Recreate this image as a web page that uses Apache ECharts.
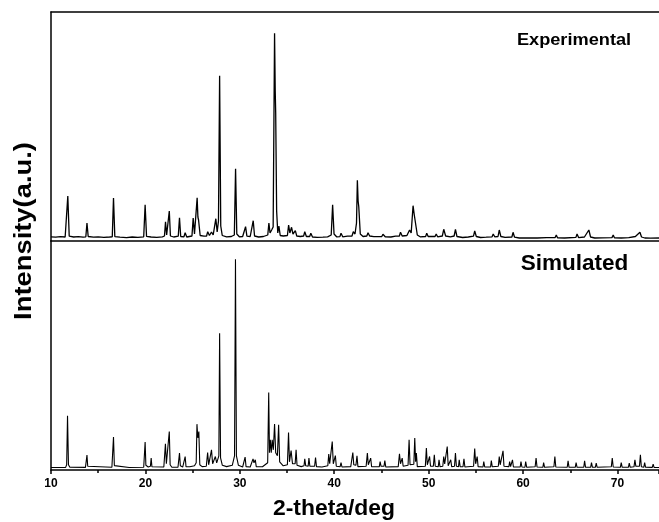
<!DOCTYPE html>
<html><head><meta charset="utf-8">
<script src="https://cdn.jsdelivr.net/npm/echarts@6/dist/echarts.min.js"></script>
<style>html,body{margin:0;padding:0;background:#fff}#c{width:659px;height:522px}</style>
</head><body><div id="c"></div>
<script>
// x range (2-theta, deg) and tick step
const xMin = 10, xMax = 74.4, xStep = 10;

// Experimental pattern: [2-theta, intensity]
const expPattern = [
[10.0,42],[10.5,38],[11.0,44],[11.5,40],[11.63,45],[11.78,450],[11.93,48],[12.4,40],[12.9,44],[13.4,38],[13.69,42],[13.81,180],[13.94,45],[14.5,38],[15.0,42],[15.6,36],[16.2,40],[16.49,42],[16.62,430],[16.76,44],[17.3,38],[18.0,34],[18.6,40],[19.2,36],[19.82,42],[19.97,363],[20.12,46],[20.6,40],[21.2,36],[21.8,42],[22.02,50],[22.13,193],[22.25,60],[22.4,60],[22.53,300],[22.65,50],[23.0,40],[23.48,48],[23.61,233],[23.74,45],[24.08,42],[24.21,83],[24.38,40],[24.93,50],[25.06,230],[25.2,70],[25.37,90],[25.48,433],[25.56,240],[25.63,210],[25.8,55],[26.2,48],[26.48,50],[26.6,93],[26.78,55],[27.0,90],[27.18,60],[27.34,80],[27.46,223],[27.6,90],[27.74,200],[27.86,1653],[27.98,150],[28.14,55],[28.6,42],[29.1,45],[29.42,60],[29.55,723],[29.68,70],[29.95,42],[30.3,45],[30.49,50],[30.61,143],[30.75,48],[31.1,45],[31.3,55],[31.42,203],[31.56,50],[32.0,40],[32.5,45],[32.96,60],[33.08,180],[33.2,80],[33.37,110],[33.53,140],[33.68,2077],[33.75,1500],[33.8,1280],[33.9,300],[34.02,80],[34.14,150],[34.28,55],[34.6,50],[35.04,55],[35.17,160],[35.3,80],[35.48,137],[35.63,70],[35.88,103],[36.03,50],[36.4,45],[36.76,50],[36.88,93],[37.05,45],[37.4,45],[37.52,77],[37.7,40],[38.2,36],[38.8,38],[39.3,42],[39.68,60],[39.83,363],[39.98,70],[40.25,42],[40.6,44],[40.72,77],[40.9,42],[41.4,48],[41.88,50],[42.02,93],[42.2,70],[42.36,180],[42.45,607],[42.53,400],[42.6,343],[42.76,70],[43.05,45],[43.45,50],[43.58,83],[43.75,50],[44.2,44],[45.04,45],[45.16,67],[45.4,42],[46.0,40],[46.5,48],[46.9,50],[47.02,87],[47.2,50],[47.7,55],[47.98,110],[48.15,80],[48.35,353],[48.48,260],[48.6,250],[48.8,60],[49.1,42],[49.68,45],[49.8,77],[49.95,45],[50.68,45],[50.8,70],[50.95,42],[51.45,50],[51.6,117],[51.8,50],[52.3,42],[52.7,50],[52.84,117],[53.0,45],[53.6,35],[54.2,40],[54.75,48],[54.88,100],[55.05,45],[55.5,35],[56.1,38],[56.72,42],[56.84,70],[57.0,42],[57.35,45],[57.48,110],[57.65,45],[58.1,36],[58.82,40],[58.94,87],[59.1,38],[59.6,30],[60.5,32],[61.5,30],[62.5,33],[63.4,34],[63.52,60],[63.65,32],[64.4,30],[65.6,36],[65.72,70],[65.88,34],[66.5,40],[66.97,110],[67.15,40],[67.6,30],[68.4,32],[69.42,34],[69.55,60],[69.68,32],[70.4,30],[71.2,34],[71.9,45],[72.38,87],[72.55,40],[72.9,30],[73.5,28],[74.4,30]
];

// Simulated pattern: [2-theta, intensity]
const simPattern = [
[10.0,3],[11.55,4],[11.66,30],[11.75,520],[11.85,30],[12.0,5],
[13.65,4],[13.74,15],[13.81,127],[13.89,15],[14.05,4],
[16.45,5],[16.54,22],[16.62,307],[16.71,22],[16.85,5],
[18.28,3],[18.37,20],[18.46,3],
[19.82,5],[19.9,20],[19.97,257],[20.05,25],[20.3,8],[20.53,15],[20.61,97],[20.69,10],[20.9,4],
[21.95,8],[22.05,25],[22.12,240],[22.22,40],[22.38,40],[22.53,363],[22.62,30],[22.8,6],
[23.45,6],[23.54,20],[23.61,147],[23.7,20],[23.95,8],[24.13,15],[24.21,113],[24.3,12],[24.7,10],
[25.2,20],[25.38,50],[25.46,437],[25.55,300],[25.66,363],[25.76,30],[26.0,12],
[26.45,15],[26.59,153],[26.7,30],[26.88,40],[27.0,180],[27.12,40],[27.3,40],[27.41,113],[27.55,50],[27.7,60],[27.78,120],[27.86,1347],[27.96,100],[28.15,25],[28.6,12],
[29.2,25],[29.44,120],[29.54,2087],[29.64,120],[29.85,25],[30.3,8],
[30.46,15],[30.56,107],[30.66,12],[31.1,8],[31.3,15],[31.4,90],[31.5,50],[31.64,80],[31.74,12],
[32.4,10],[32.95,50],[33.06,753],[33.14,150],[33.23,280],[33.33,150],[33.43,280],[33.55,180],[33.68,437],[33.8,150],[33.98,120],[34.11,430],[34.22,60],[34.6,20],
[35.04,30],[35.16,353],[35.26,60],[35.43,173],[35.58,40],[35.86,40],[35.96,180],[36.06,25],[36.5,12],
[36.8,20],[36.88,90],[36.98,20],[37.24,15],[37.32,97],[37.42,15],[37.92,15],[38.02,103],[38.12,12],[38.7,8],
[39.32,20],[39.42,137],[39.52,40],[39.68,40],[39.79,263],[39.9,40],[40.03,40],[40.12,123],[40.22,15],[40.62,10],[40.72,53],[40.82,8],
[41.75,12],[41.87,30],[41.97,153],[42.07,30],[42.3,25],[42.41,120],[42.51,12],
[43.38,15],[43.51,147],[43.61,30],[43.77,25],[43.86,97],[43.96,10],
[44.77,10],[44.86,63],[44.96,15],[45.27,15],[45.36,73],[45.46,8],
[46.78,12],[46.91,140],[47.02,40],[47.12,40],[47.2,97],[47.3,15],
[47.82,25],[47.93,280],[48.03,30],[48.43,35],[48.53,297],[48.62,60],[48.7,147],[48.8,12],
[49.65,15],[49.76,197],[49.86,30],[50.02,30],[50.1,113],[50.2,15],[50.5,15],[50.6,130],[50.7,15],[51.02,10],[51.1,80],[51.2,12],
[51.5,15],[51.6,113],[51.7,40],[51.87,40],[51.97,213],[52.07,20],[52.26,12],[52.34,80],[52.44,12],[52.74,15],[52.84,147],[52.94,15],
[53.16,10],[53.24,80],[53.34,10],[53.64,10],[53.74,90],[53.84,8],
[54.76,15],[54.88,193],[54.98,40],[55.05,40],[55.14,113],[55.24,12],[55.76,8],[55.84,63],[55.94,8],
[56.56,8],[56.64,73],[56.74,10],[57.38,15],[57.48,113],[57.58,30],[57.78,30],[57.88,170],[57.98,15],
[58.5,12],[58.58,63],[58.68,12],[58.8,10],[58.88,80],[58.98,8],
[59.7,8],[59.78,63],[59.88,8],[60.2,6],[60.28,63],[60.38,6],
[61.28,10],[61.38,97],[61.48,8],[62.1,5],[62.18,53],[62.28,5],
[63.27,10],[63.37,113],[63.47,8],[64.68,5],[64.77,70],[64.87,5],
[65.53,5],[65.62,53],[65.72,5],[66.43,5],[66.52,70],[66.62,5],
[67.16,5],[67.25,53],[67.35,5],[67.66,5],[67.75,47],[67.85,5],
[69.35,10],[69.45,97],[69.55,8],[70.31,5],[70.4,53],[70.5,5],
[71.16,5],[71.25,47],[71.35,5],[71.75,10],[71.85,80],[71.95,15],
[72.33,15],[72.43,130],[72.53,10],[72.79,5],[72.88,53],[72.98,5],
[73.69,4],[73.78,37],[73.88,4],[74.4,3]
];

const expYMin = 0, expYMax = 2290, simYMin = -22, simYMax = 2270;
const FONT = '"Liberation Sans", Arial, Helvetica, sans-serif';
const lineS = {color:'#000', width:1.5};

const chart = echarts.init(document.getElementById('c'), null, {renderer:'canvas'});
const hiddenX = (grid, pos) => ({
  gridIndex:grid, type:'value', min:xMin, max:xMax, interval:xStep, position:pos,
  axisLine:{show:true, onZero:false, lineStyle:lineS},
  axisTick:{show:false}, axisLabel:{show:false}, splitLine:{show:false}
});
const txt = (t, x, y, size, extra) => Object.assign({
  type:'text', x:x, y:y,
  style:{text:t, font:'bold '+size+'px '+FONT, fill:'#000', align:'center', verticalAlign:'middle', textAlign:'center', textVerticalAlign:'middle'}
}, extra || {});
chart.setOption({
  animation:false,
  backgroundColor:'#fff',
  grid:[
    {left:51, right:0, top:12, height:229},
    {left:51, right:0, top:241, height:229}
  ],
  xAxis:[
    hiddenX(0,'bottom'),
    hiddenX(0,'top'),
    {
      gridIndex:1, type:'value', min:xMin, max:xMax, interval:xStep, position:'bottom',
      axisLine:{show:true, onZero:false, lineStyle:lineS},
      axisTick:{show:true, inside:false, length:4, lineStyle:lineS},
      minorTick:{show:true, splitNumber:2, length:3, lineStyle:lineS},
      axisLabel:{show:true, margin:8, color:'#000', fontWeight:'bold', fontSize:12, fontFamily:FONT, showMaxLabel:false},
      splitLine:{show:false}, minorSplitLine:{show:false}
    }
  ],
  yAxis:[
    {gridIndex:0, type:'value', min:expYMin, max:expYMax, axisLine:{show:true, onZero:false, lineStyle:lineS}, axisTick:{show:false}, axisLabel:{show:false}, splitLine:{show:false}},
    {gridIndex:1, type:'value', min:simYMin, max:simYMax, axisLine:{show:true, onZero:false, lineStyle:lineS}, axisTick:{show:false}, axisLabel:{show:false}, splitLine:{show:false}}
  ],
  series:[
    {name:'Experimental', type:'line', xAxisIndex:0, yAxisIndex:0, data:expPattern, showSymbol:false, symbol:'none',
     lineStyle:{color:'#000', width:1.3}, silent:true},
    {name:'Simulated', type:'line', xAxisIndex:2, yAxisIndex:1, data:simPattern, showSymbol:false, symbol:'none',
     lineStyle:{color:'#000', width:1.1}, silent:true}
  ],
  graphic:[
    txt('Experimental', 574, 40, 17, {scaleX:1.07}),
    txt('Simulated', 574.5, 264, 22.5),
    txt('2-theta/deg', 334, 509, 21.5, {scaleX:1.065}),
    txt('Intensity(a.u.)', 24, 231, 24, {rotation:Math.PI/2, scaleX:1.14})
  ]
});
</script>
</body></html>
